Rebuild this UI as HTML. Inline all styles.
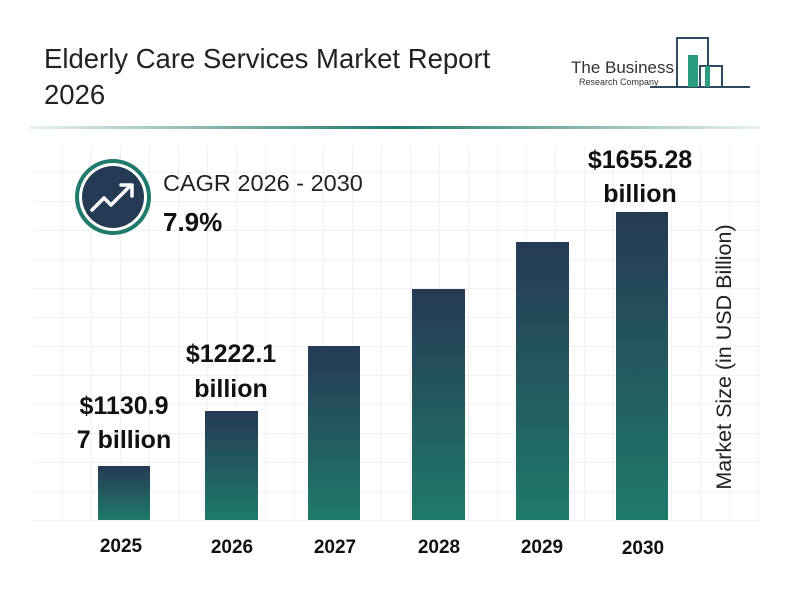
<!DOCTYPE html>
<html><head><style>
body{margin:0;width:800px;height:600px;background:#fff;font-family:"Liberation Sans",Arial,sans-serif;overflow:hidden}
</style></head><body>
<svg width="800" height="600" xmlns="http://www.w3.org/2000/svg" font-family="Liberation Sans, Arial, sans-serif">
<defs>
<pattern id="g" x="5" y="28" width="29" height="29" patternUnits="userSpaceOnUse">
<path d="M29 0V29M0 29H29" fill="none" stroke="#e4e4e4" stroke-width="1"/>
</pattern>
<linearGradient id="bar" x1="0" y1="0" x2="0" y2="1">
<stop offset="0" stop-color="#253a54"/><stop offset="1" stop-color="#1f7a6b"/>
</linearGradient>
<linearGradient id="line" x1="0" x2="1">
<stop offset="0" stop-color="#1f7a6b" stop-opacity="0.1"/><stop offset="0.5" stop-color="#1f7a6b"/><stop offset="1" stop-color="#1f7a6b" stop-opacity="0.1"/>
</linearGradient>
</defs>
<text x="44" y="68" font-size="27.5" fill="#222">Elderly Care Services Market Report</text>
<text x="44" y="104" font-size="27.5" fill="#222">2026</text>
<g fill="none" stroke="#2d4a5f" stroke-width="2">
<path d="M650 87H750M677 87V38H708V87M700 87V66H722V87"/>
</g>
<rect x="688" y="55" width="10" height="32" fill="#2a9d80"/>
<rect x="705" y="66" width="5" height="21" fill="#2a9d80"/>
<text x="571" y="73" font-size="17" fill="#333">The Business</text>
<text x="579" y="85" font-size="9" fill="#333">Research Company</text>
<rect x="30" y="126" width="730" height="3" fill="url(#line)"/>
<rect x="34" y="145" width="726" height="376" fill="url(#g)"/>
<circle cx="113" cy="197" r="38" fill="#1f7a6b"/>
<circle cx="113" cy="197" r="34" fill="#fff"/>
<circle cx="113" cy="197" r="31" fill="#253a54"/>
<path d="M92 210L104 198L111 205L129 187" fill="none" stroke="#fff" stroke-width="3.5" stroke-linecap="round" stroke-linejoin="round"/>
<path d="M121 185H132V196" fill="none" stroke="#fff" stroke-width="3.5" stroke-linecap="round" stroke-linejoin="round"/>
<text x="163" y="191" font-size="23.5" fill="#222">CAGR 2026 - 2030</text>
<text x="163" y="231" font-size="26" font-weight="bold" fill="#111">7.9%</text>
<rect x="98" y="466" width="52" height="54" fill="url(#bar)"/>
<rect x="205" y="411" width="53" height="109" fill="url(#bar)"/>
<rect x="308" y="346" width="52" height="174" fill="url(#bar)"/>
<rect x="412" y="289" width="53" height="231" fill="url(#bar)"/>
<rect x="516" y="242" width="53" height="278" fill="url(#bar)"/>
<rect x="616" y="212" width="52" height="308" fill="url(#bar)"/>
<g font-size="25" font-weight="bold" fill="#111" text-anchor="middle">
<text x="124" y="414">$1130.9</text><text x="124" y="448">7 billion</text>
<text x="231" y="362">$1222.1</text><text x="231" y="397">billion</text>
<text x="640" y="168">$1655.28</text><text x="640" y="202">billion</text>
</g>
<g font-size="19" font-weight="bold" fill="#111" text-anchor="middle">
<text x="121" y="552">2025</text><text x="232" y="553">2026</text><text x="335" y="553">2027</text>
<text x="439" y="553">2028</text><text x="542" y="553">2029</text><text x="643" y="554">2030</text>
</g>
<text transform="translate(731,357) rotate(-90)" font-size="21.5" fill="#222" text-anchor="middle">Market Size (in USD Billion)</text>
</svg>
</body></html>
